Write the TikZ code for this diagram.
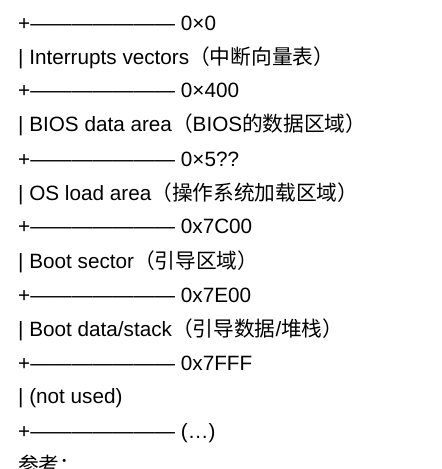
\documentclass[tikz,border=0pt]{standalone}
\usepackage{fontspec}
\setmainfont{Liberation Sans}
\newfontfamily\cjk{Noto Sans CJK SC}

\tikzset{
    row/.style={anchor=base west, inner sep=0pt, font=\fontsize{20.7}{24}\selectfont},
}

\begin{document}
\begin{tikzpicture}[x=1pt,y=1pt]
    \useasboundingbox (0,0) rectangle (442,-469);
    \node[row] (b0) at (18,-30) {+——————— 0×0};
    \node[row] (ivt) at (18,-64) {| Interrupts vectors{\cjk （中断向量表）}};
    \node[row] (b400) at (18,-97.5) {+——————— 0×400};
    \node[row] (bda) at (18,-131) {| BIOS data area{\cjk （}BIOS{\cjk 的数据区域）}};
    \node[row] (b5xx) at (18,-166) {+——————— 0×5??};
    \node[row] (osload) at (18,-200) {| OS load area{\cjk （操作系统加载区域）}};
    \node[row] (b7c00) at (18,-233.5) {+——————— 0x7C00};
    \node[row] (boot) at (18,-268) {| Boot sector{\cjk （引导区域）}};
    \node[row] (b7e00) at (18,-302) {+——————— 0x7E00};
    \node[row] (stack) at (18,-336) {| Boot data/stack{\cjk （引导数据}/{\cjk 堆栈）}};
    \node[row] (b7fff) at (18,-370) {+——————— 0x7FFF};
    \node[row] (unused) at (18,-403.5) {| (not used)};
    \node[row] (bend) at (18,-438) {+——————— (…)};
    \node[row] (refs) at (18,-472) {\cjk 参考：};
\end{tikzpicture}
\end{document}
